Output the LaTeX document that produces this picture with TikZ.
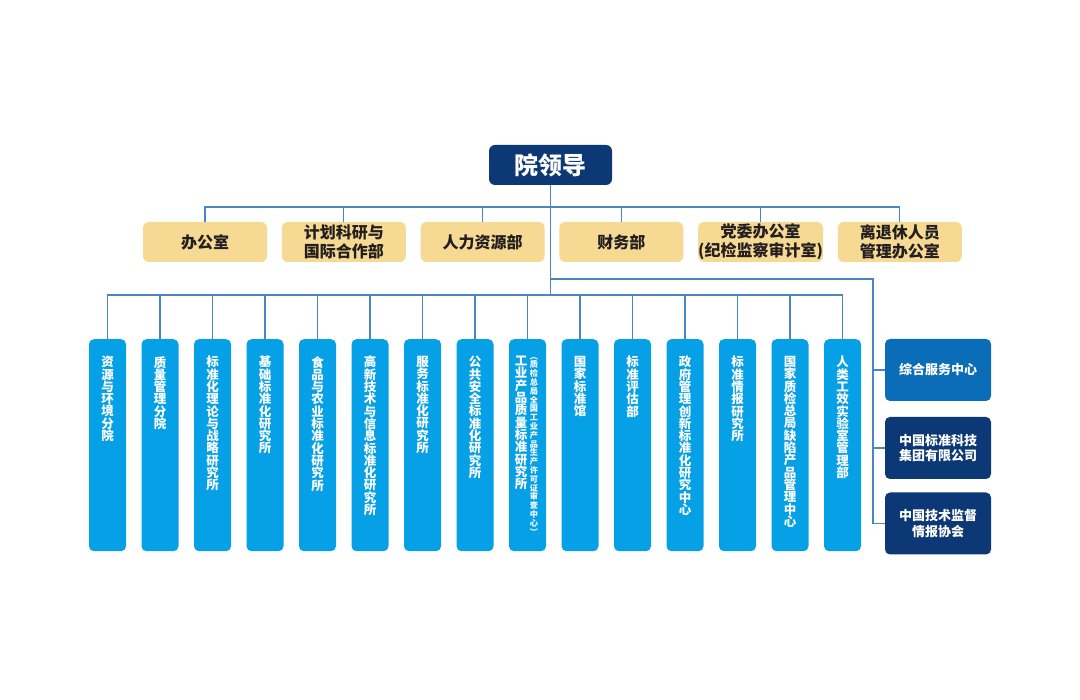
\documentclass[tikz,border=0pt]{standalone}
\usepackage{fontspec}
\setmainfont{Noto Sans CJK SC}
\XeTeXlinebreaklocale "zh"
\XeTeXlinebreakskip=0pt plus 1pt\relax
\lineskiplimit=-20pt\relax
\usetikzlibrary{positioning}
\definecolor{leadnavy}{HTML}{0C3875}
\definecolor{officesand}{HTML}{F6D992}
\definecolor{unitblue}{HTML}{06A0E6}
\definecolor{centreblue}{HTML}{0B6DB7}
\definecolor{linkblue}{HTML}{4A86C2}
\definecolor{inkdark}{HTML}{231F20}

\begin{document}
\begin{tikzpicture}[x=1pt, y=-1pt, node distance=14.4pt,
    link/.style={draw=linkblue, line width=1.2pt},
    lead/.style={fill=leadnavy, rounded corners=6pt, minimum width=123pt, minimum height=40pt, text=white, font=\fontsize{24}{26}\selectfont\bfseries},
    office/.style={fill=officesand, rounded corners=6pt, minimum width=124pt, minimum height=40pt, inner sep=0pt, align=center, text=inkdark, font=\fontsize{16}{19}\selectfont\bfseries},
    unit/.style={fill=unitblue, rounded corners=5pt, minimum width=37pt, minimum height=212pt, inner sep=0pt, anchor=north},
    unitname/.style={text=white, text width=12.5pt, align=center, inner sep=0pt, anchor=north, font=\fontsize{12.5}{12.3}\selectfont\bfseries},
    centre/.style={fill=#1, rounded corners=5pt, minimum width=106pt, minimum height=62pt, inner sep=0pt, align=center, text=white, font=\fontsize{13}{15.5}\selectfont\bfseries}]

    \useasboundingbox (0,0) rectangle (1080,700);

    \node[lead] (lead) at (550.5,165) {院领导};

    \node[office] (o1) at (205,242) {办公室};
    \node[office, right=of o1] (o2) {计划科研与\\国际合作部};
    \node[office, right=of o2] (o3) {人力资源部};
    \node[office, right=of o3] (o4) {财务部};
    \node[office, right=of o4] (o5) {党委办公室\\(纪检监察审计室)};
    \node[office, right=of o5] (o6) {离退休人员\\管理办公室};

    \node[centre=centreblue] (c1) at (938,370) {综合服务中心};
    \node[centre=leadnavy] (c2) at (938,448) {中国标准科技\\集团有限公司};
    \node[centre=leadnavy] (c3) at (938,523.5) {中国技术监督\\情报协会};

    \foreach \name/\nudge [count=\i] in {资源与环境分院/0, 质量管理分院/0, 标准化理论与战略研究所/0, 基础标准化研究所/0, 食品与农业标准化研究所/0, 高新技术与信息标准化研究所/0, 服务标准化研究所/0, 公共安全标准化研究所/0, 工业产品质量标准研究所/-6.5, 国家标准馆/0, 标准评估部/0, 政府管理创新标准化研究中心/0, 标准情报研究所/0, 国家质检总局缺陷产品管理中心/0, 人类工效实验室管理部/0} {
        \node[unit] (u\i) at ({55+52.5*\i},339) {};
        \node[unitname] (n\i) at ([xshift=\nudge pt, yshift=-17pt]u\i.north) {\name};
    }
    \node[unitname, text width=9pt, font=\fontsize{8.2}{8.8}\selectfont\bfseries] (n9b) at ([xshift=6.5pt, yshift=-18pt]u9.north)
        {︵\\质\\检\\总\\局\\全\\国\\工\\业\\产\\品\\生\\产\\许\\可\\证\\审\\查\\中\\心\\︶};

    \coordinate (officebus) at (550.5,207);
    \coordinate (centrebus) at (550.5,279);
    \coordinate (unitbus) at (550.5,295);
    \coordinate (rail) at (873,279);

    \draw[link] (lead.south) -- (unitbus);
    \draw[link] (o1.north) |- (officebus) -| (o6.north);
    \foreach \k in {2,...,5} \draw[link] (o\k.north) -- (o\k.north |- officebus);
    \draw[link] (u1.north) |- (unitbus) -| (u15.north);
    \foreach \k in {2,...,14} \draw[link] (u\k.north) -- (u\k.north |- unitbus);
    \draw[link] (centrebus) -- (rail) |- (c3.west);
    \draw[link] (rail |- c1.west) -- (c1.west);
    \draw[link] (rail |- c2.west) -- (c2.west);
\end{tikzpicture}
\end{document}
